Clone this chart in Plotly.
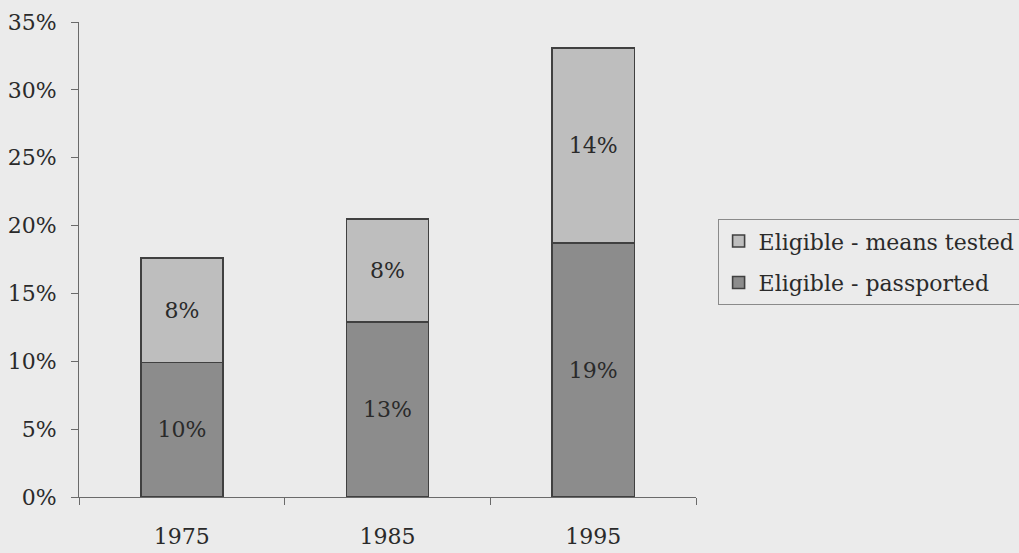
import plotly.graph_objects as go

# Share of pupils eligible for free school meals, by year
years = ["1975", "1985", "1995"]
passported = [9.9, 12.9, 18.7]
means_tested = [7.7, 7.6, 14.4]

series_names = ["Eligible - passported", "Eligible - means tested"]
fill_colors = ["#8c8c8c", "#bebebe"]
legend_ranks = [2, 1]

y_ticks = [0, 5, 10, 15, 20, 25, 30, 35]
y_tick_text = [f"{v}%" for v in y_ticks]

FONT = "DejaVu Serif"
FSIZE = 22
BG = "#ebebeb"
INK = "#2a2a2a"

fig = go.Figure()
for i, (name, vals, col) in enumerate(zip(series_names, [passported, means_tested], fill_colors)):
    fig.add_trace(go.Bar(
        x=years, y=vals, name=name,
        legendgroup=f"g{i}", legendrank=legend_ranks[i],
        marker=dict(color=col, line=dict(color="#404040", width=1.6)),
        width=0.40,
        texttemplate="%{y:.0f}%",
        textposition="inside",
        insidetextanchor="middle",
        textangle=0,
        textfont=dict(family=FONT, size=FSIZE, color=INK),
        constraintext="none",
    ))

fig.update_layout(
    barmode="stack",
    width=1019, height=553,
    margin=dict(l=79, r=323, t=22, b=56, autoexpand=False),
    paper_bgcolor=BG, plot_bgcolor=BG,
    font=dict(family=FONT, size=FSIZE, color=INK),
    showlegend=True,
    legend=dict(
        traceorder="grouped",
        x=1.035, xanchor="left", y=0.585, yanchor="top",
        bgcolor=BG, bordercolor="#8a8a8a", borderwidth=1,
        font=dict(family=FONT, size=FSIZE, color=INK),
        itemwidth=30, tracegroupgap=10,
    ),
    xaxis=dict(
        type="category", automargin=False,
        showline=True, linecolor="#6a6a6a", linewidth=1,
        ticks="outside", tickson="boundaries", ticklen=7,
        tickcolor="#6a6a6a", ticklabelstandoff=20,
        showgrid=False, zeroline=False,
    ),
    yaxis=dict(
        range=[0, 35], automargin=False,
        tickvals=y_ticks, ticktext=y_tick_text,
        showline=True, linecolor="#6a6a6a", linewidth=1,
        ticks="outside", ticklen=7, tickcolor="#6a6a6a",
        ticklabelstandoff=10,
        showgrid=False, zeroline=False,
    ),
)

fig.write_html("out.html")
